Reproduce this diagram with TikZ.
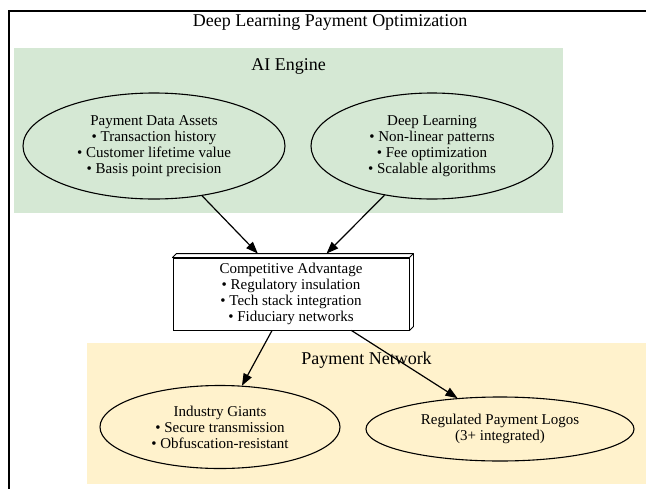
\documentclass[tikz,border=0pt]{standalone}
\usepackage{fontspec}
\setmainfont{Liberation Serif}
\usetikzlibrary{arrows.meta,shapes.geometric,calc}
\definecolor{aigreen}{HTML}{D5E8D4}
\definecolor{netyellow}{HTML}{FFF2CC}
\begin{document}
\begin{tikzpicture}[x=1pt,y=-1pt,
  txt/.style={font=\fontsize{15}{16}\selectfont, align=center},
  bigtxt/.style={font=\fontsize{18}{20}\selectfont},
  oval/.style={ellipse, draw, line width=1.1pt, inner sep=0pt, txt},
  link/.style={line width=1.2pt, -{Triangle[length=12pt,width=9pt]}}]
\useasboundingbox (0,0) rectangle (646,488);
\fill[white] (0,0) rectangle (646,488);
% cluster backgrounds
\fill[aigreen] (14,48) rectangle (563,213);
\fill[netyellow] (87,343) rectangle (646,484);
% outer frame
\draw[line width=2pt] (647,10.5) -- (9,10.5) -- (9,490);
% labels
\node[bigtxt, anchor=base] (title) at (330,26) {Deep Learning Payment Optimization};
\node[bigtxt, anchor=base] (ailbl) at (288.5,70) {AI Engine};
\node[bigtxt, anchor=base] (netlbl) at (366.5,364) {Payment Network};
% AI engine nodes
\node[oval, fill=aigreen, minimum width=262pt, minimum height=106pt] (pda) at (154,146)
  {Payment Data Assets\\• Transaction history\\• Customer lifetime value\\• Basis point precision};
\node[oval, fill=aigreen, minimum width=242pt, minimum height=106pt] (dl) at (432,146)
  {Deep Learning\\• Non-linear patterns\\• Fee optimization\\• Scalable algorithms};
% competitive advantage box (3d)
\node[txt, draw, fill=white, line width=0.9pt, minimum width=236pt, minimum height=72pt, inner sep=0pt] (ca) at (291,294)
  {Competitive Advantage\\• Regulatory insulation\\• Tech stack integration\\• Fiduciary networks};
\filldraw[fill=white, line width=0.9pt, line join=round]
  (ca.north west) -- ++(4,-4) -- ($(ca.north east)+(4,-4)$) -- ($(ca.south east)+(4,-4)$) -- (ca.south east) -- (ca.north east) -- cycle;
\draw[line width=0.9pt] (ca.north east) -- ++(4,-4);
% payment network nodes
\node[oval, fill=netyellow, minimum width=240pt, minimum height=83pt] (ig) at (220,427)
  {Industry Giants\\• Secure transmission\\• Obfuscation-resistant};
\node[oval, fill=netyellow, minimum width=268pt, minimum height=64pt] (rpl) at (500,429)
  {Regulated Payment Logos\\(3+ integrated)};
% connectors
\draw[link] (pda.-46) -- ($(ca.north west)!0.36!(ca.north east)+(0,-4)$);
\draw[link] (dl.-134) -- ($(ca.north west)!0.65!(ca.north east)+(0,-4)$);
\draw[link] ($(ca.south west)!0.42!(ca.south east)$) -- (ig.62);
\draw[link] ($(ca.south west)!0.755!(ca.south east)$) -- (rpl.144);
\end{tikzpicture}
\end{document}
